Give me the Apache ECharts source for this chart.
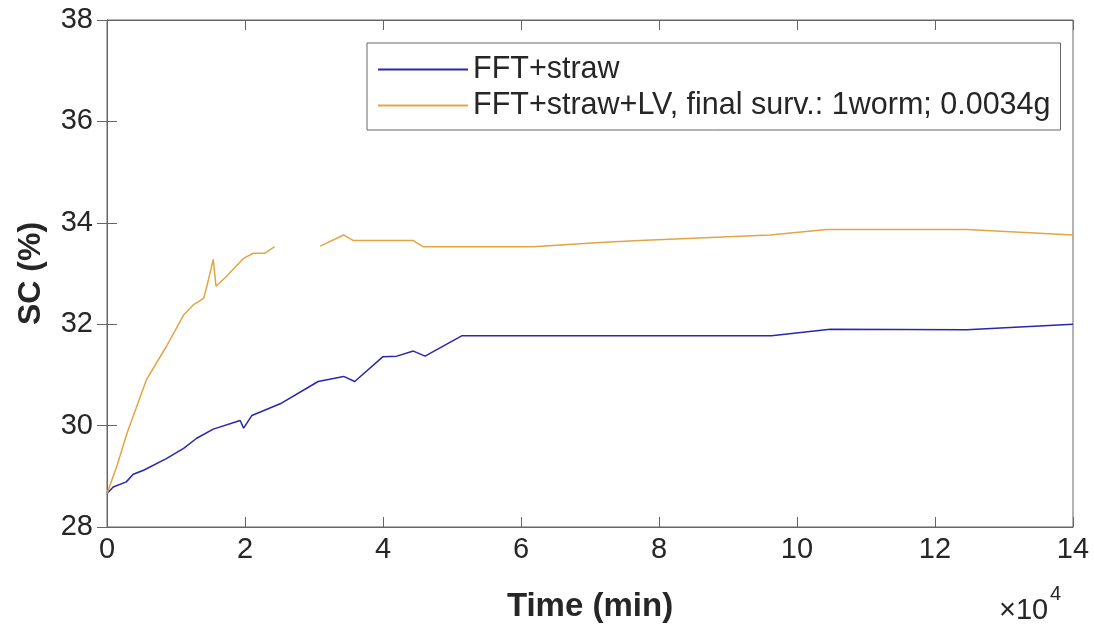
<!DOCTYPE html>
<html><head><meta charset="utf-8">
<script src="https://cdn.jsdelivr.net/npm/echarts@6/dist/echarts.min.js"></script>
<style>html,body{margin:0;padding:0;background:#fff}#c{width:1094px;height:628px}</style>
</head><body><div id="c"></div>
<script>
// x in units of 1e4 min
const blueX = [0, 0.09, 0.28, 0.38, 0.53, 0.86, 1.11, 1.30, 1.54, 1.93, 1.98, 2.10, 2.51, 3.06, 3.43, 3.59, 4.00, 4.20, 4.44, 4.61, 5.14, 9.63, 10.48, 12.46, 14.0];
const blueY = [28.66, 28.79, 28.89, 29.04, 29.12, 29.35, 29.55, 29.75, 29.93, 30.10, 29.95, 30.20, 30.43, 30.87, 30.97, 30.87, 31.36, 31.37, 31.47, 31.37, 31.77, 31.77, 31.90, 31.89, 32.0];
const orangeX = [0, 0.14, 0.29, 0.57, 0.86, 1.11, 1.25, 1.40, 1.44, 1.54, 1.58, 1.73, 1.98, 2.12, 2.29, 2.43, 2.75, 3.09, 3.43, 3.57, 4.44, 4.58, 6.18, 7.14, 7.72, 9.61, 10.43, 12.46, 14.0];
const orangeY = [28.66, 29.19, 29.85, 30.9, 31.56, 32.18, 32.38, 32.51, 32.71, 33.28, 32.75, 32.94, 33.30, 33.40, 33.40, 33.53, null, 33.54, 33.76, 33.65, 33.65, 33.53, 33.53, 33.61, 33.65, 33.76, 33.87, 33.87, 33.76];
const seriesNames = ['FFT+straw', 'FFT+straw+LV, final surv.: 1worm; 0.0034g'];
const xTicks = [0, 2, 4, 6, 8, 10, 12, 14];
const yTicks = [28, 30, 32, 34, 36, 38];

const axisColor = '#666';
const textColor = '#262626';
const font = 'Liberation Sans, Arial, sans-serif';
const chart = echarts.init(document.getElementById('c'));
const zip = (xs, ys) => xs.map((x, i) => [x, ys[i]]);
const tick = {inside: true, length: 10, lineStyle: {color: axisColor}};
chart.setOption({
  animation: false,
  grid: {left: 107, right: 21, top: 20, bottom: 101, show: true, borderColor: axisColor, borderWidth: 1},
  xAxis: [{
    type: 'value', min: xTicks[0], max: xTicks[xTicks.length-1], interval: 2,
    name: 'Time (min)', nameLocation: 'middle', nameGap: 63,
    nameTextStyle: {fontFamily: font, fontSize: 33, fontWeight: 'bold', color: textColor},
    axisLine: {lineStyle: {color: axisColor}},
    axisTick: tick,
    axisLabel: {fontFamily: font, fontSize: 29, color: textColor, margin: 8},
    splitLine: {show: false}
  }, {
    type: 'value', position: 'top', min: 0, max: 14, interval: 2,
    axisLine: {show: true, lineStyle: {color: axisColor}},
    axisTick: tick, axisLabel: {show: false}, splitLine: {show: false}
  }],
  yAxis: [{
    type: 'value', min: yTicks[0], max: yTicks[yTicks.length-1], interval: 2,
    name: 'SC (%)', nameLocation: 'middle', nameGap: 60,
    nameTextStyle: {fontFamily: font, fontSize: 32, fontWeight: 'bold', color: textColor},
    axisLine: {show: true, lineStyle: {color: axisColor}},
    axisTick: Object.assign({show: true}, tick),
    axisLabel: {fontFamily: font, fontSize: 29, color: textColor, margin: 14},
    splitLine: {show: false}
  }, {
    type: 'value', position: 'right', min: 28, max: 38, interval: 2,
    axisLine: {show: true, lineStyle: {color: axisColor}},
    axisTick: Object.assign({show: true}, tick), axisLabel: {show: false}, splitLine: {show: false}
  }],
  legend: {
    orient: 'vertical', left: 367, top: 43,
    data: seriesNames,
    icon: 'path://M0,0 L1,0 L1,0.02 L0,0.02 Z',
    itemWidth: 90, itemHeight: 2, itemGap: 5,
    padding: [11, 10, 9, 11],
    borderColor: axisColor, borderWidth: 1, backgroundColor: '#fff',
    textStyle: {fontFamily: font, fontSize: 30.5, color: textColor, lineHeight: 30}
  },
  series: [{
    name: seriesNames[0], type: 'line', data: zip(blueX, blueY), showSymbol: false, symbol: 'none',
    lineStyle: {color: '#2727b0', width: 1.5}, itemStyle: {color: '#2727b0'}
  }, {
    name: seriesNames[1], type: 'line', data: zip(orangeX, orangeY), showSymbol: false, symbol: 'none', connectNulls: false,
    lineStyle: {color: '#e3a543', width: 1.5}, itemStyle: {color: '#e3a543'}
  }],
  graphic: [{
    type: 'text', left: 999, top: 596,
    style: {text: '×10', fontFamily: font, fontSize: 29, fill: textColor}
  }, {
    type: 'text', left: 1050, top: 584,
    style: {text: '4', fontFamily: font, fontSize: 20, fill: textColor}
  }]
});
</script></body></html>
